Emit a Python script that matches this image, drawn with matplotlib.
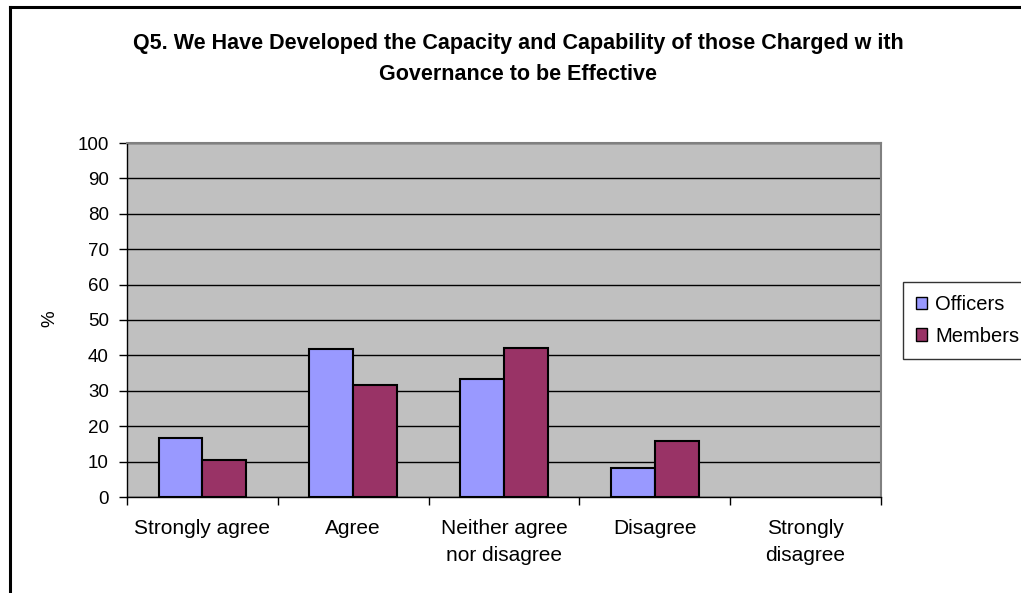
import matplotlib
matplotlib.use("Agg")
import matplotlib.pyplot as plt
import numpy as np
from matplotlib.lines import Line2D
from matplotlib.patches import Patch

plt.rcParams['font.family'] = ['Liberation Sans', 'DejaVu Sans']

categories = ["Strongly agree", "Agree", "Neither agree\nnor disagree", "Disagree", "Strongly\ndisagree"]
officers = [16.7, 41.7, 33.3, 8.3, 0.0]
members = [10.5, 31.6, 42.1, 15.8, 0.0]
series_names = ["Officers", "Members"]
title = "Q5. We Have Developed the Capacity and Capability of those Charged w ith\nGovernance to be Effective"

W, H = 1021, 593
fig = plt.figure(figsize=(W / 100, H / 100), dpi=100)
fig.patch.set_facecolor("white")

ax = fig.add_axes([127 / W, 1 - 497 / H, (881 - 127) / W, (497 - 143) / H])
ax.set_facecolor("#C0C0C0")

x = np.arange(len(categories))
bw = 0.29


def outline(vals):
    # empty bars get no outline
    return [1.5 if v > 0 else 0 for v in vals]


ax.bar(x - bw / 2, officers, bw, color="#9999FF", edgecolor="black",
       linewidth=outline(officers), zorder=3)
ax.bar(x + bw / 2, members, bw, color="#993366", edgecolor="black",
       linewidth=outline(members), zorder=3)

ax.set_xlim(-0.5, len(categories) - 0.5)
ax.set_ylim(0, 100)
ax.set_yticks(np.arange(0, 101, 10))
ax.yaxis.grid(True, color="black", linewidth=1.0, zorder=1)
ax.set_axisbelow(True)

ax.set_xticks(x)
ax.set_xticklabels(categories, fontsize=15, linespacing=1.55, va="top")
ax.set_xticks(np.arange(-0.5, len(categories), 1.0), minor=True)
ax.tick_params(axis="x", which="major", length=0, pad=16)
ax.tick_params(axis="x", which="minor", length=6, width=1, direction="out", color="black")
ax.tick_params(axis="y", labelsize=13.5, length=6, width=1, direction="out", color="black", pad=7)

for side in ("top", "right"):
    ax.spines[side].set_color("#808080")
    ax.spines[side].set_linewidth(1.5)
for side in ("left", "bottom"):
    ax.spines[side].set_color("black")
    ax.spines[side].set_linewidth(1.0)

fig.text(50 / W, 1 - 319 / H, "%", rotation=90, fontsize=13.5, ha="center", va="center")

fig.text(518 / W, 1 - 59 / H, title, fontsize=15.5, fontweight="bold",
         ha="center", va="center", linespacing=1.6)

handles = [Patch(facecolor="#9999FF", edgecolor="black", linewidth=1),
           Patch(facecolor="#993366", edgecolor="black", linewidth=1)]
leg = fig.legend(handles, series_names, loc="upper left",
                 bbox_to_anchor=(903 / W, 1 - 282 / H), fontsize=14.5,
                 frameon=True, fancybox=False, edgecolor="black",
                 handlelength=0.55, handleheight=0.55, handletextpad=0.4,
                 borderpad=0.65, labelspacing=0.62, borderaxespad=0)
leg.get_frame().set_linewidth(1.0)

# outer chart border
fig.add_artist(Line2D([10 / W, 10 / W], [0, 1 - 7 / H], color="black", linewidth=2.2))
fig.add_artist(Line2D([10 / W, 1], [1 - 7 / H, 1 - 7 / H], color="black", linewidth=2.2))

fig.savefig("out.png", dpi=100)
